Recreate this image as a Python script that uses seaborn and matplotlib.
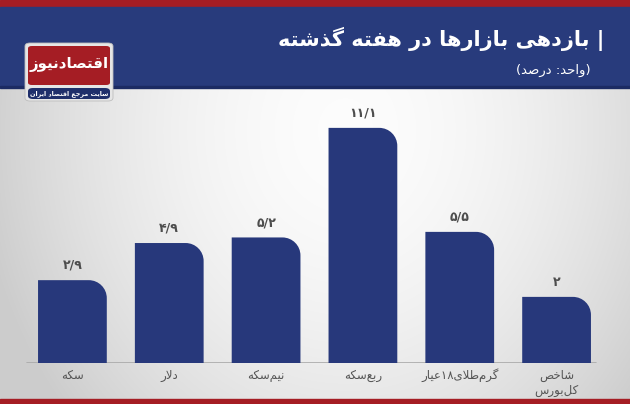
import re
import numpy as np
import matplotlib
matplotlib.use("Agg")
import matplotlib.pyplot as plt
import seaborn as sns
from matplotlib.patches import Rectangle, FancyBboxPatch, PathPatch
from matplotlib.path import Path

# داده ها
categories = ["سکه", "دلار", "نیم\u200cسکه", "ربع\u200cسکه", "گرم\u200cطلای۱۸عیار", "شاخص\nکل\u200cبورس"]
values = [2.9, 4.9, 5.2, 11.1, 5.5, 2]
title = "| بازدهی بازارها در هفته گذشته"
subtitle = "(واحد: درصد)"
logo_name = "اقتصادنیوز"
logo_tag = "سایت مرجع اقتصاد ایران"

navy = "#27387b"
red = "#a51d24"

# matplotlib has no arabic shaping, so do it by hand
FORMS = {
    'ا': ('\uFE8D', '\uFE8E', None, None),
    'ب': ('\uFE8F', '\uFE90', '\uFE91', '\uFE92'),
    'ت': ('\uFE95', '\uFE96', '\uFE97', '\uFE98'),
    'ج': ('\uFE9D', '\uFE9E', '\uFE9F', '\uFEA0'),
    'ح': ('\uFEA1', '\uFEA2', '\uFEA3', '\uFEA4'),
    'خ': ('\uFEA5', '\uFEA6', '\uFEA7', '\uFEA8'),
    'د': ('\uFEA9', '\uFEAA', None, None),
    'ذ': ('\uFEAB', '\uFEAC', None, None),
    'ر': ('\uFEAD', '\uFEAE', None, None),
    'ز': ('\uFEAF', '\uFEB0', None, None),
    'س': ('\uFEB1', '\uFEB2', '\uFEB3', '\uFEB4'),
    'ش': ('\uFEB5', '\uFEB6', '\uFEB7', '\uFEB8'),
    'ص': ('\uFEB9', '\uFEBA', '\uFEBB', '\uFEBC'),
    'ط': ('\uFEC1', '\uFEC2', '\uFEC3', '\uFEC4'),
    'ع': ('\uFEC9', '\uFECA', '\uFECB', '\uFECC'),
    'ف': ('\uFED1', '\uFED2', '\uFED3', '\uFED4'),
    'ق': ('\uFED5', '\uFED6', '\uFED7', '\uFED8'),
    'ک': ('\uFB8E', '\uFB8F', '\uFB90', '\uFB91'),
    'گ': ('\uFB92', '\uFB93', '\uFB94', '\uFB95'),
    'ل': ('\uFEDD', '\uFEDE', '\uFEDF', '\uFEE0'),
    'م': ('\uFEE1', '\uFEE2', '\uFEE3', '\uFEE4'),
    'ن': ('\uFEE5', '\uFEE6', '\uFEE7', '\uFEE8'),
    'ه': ('\uFEE9', '\uFEEA', '\uFEEB', '\uFEEC'),
    'و': ('\uFEED', '\uFEEE', None, None),
    'ی': ('\uFBFC', '\uFBFD', '\uFBFE', '\uFBFF'),
}
MIRROR = str.maketrans("()", ")(")


def shape_line(s):
    out = []
    i = 0
    while i < len(s):
        c = s[i]
        if c not in FORMS:
            out.append(c)
            i += 1
            continue
        prev = s[i - 1] if i > 0 else ''
        jp = prev in FORMS and FORMS[prev][2] is not None
        if c == 'ل' and i + 1 < len(s) and s[i + 1] == 'ا':
            out.append('\uFEFC' if jp else '\uFEFB')
            i += 2
            continue
        nxt = s[i + 1] if i + 1 < len(s) else ''
        jn = FORMS[c][2] is not None and nxt in FORMS
        f = FORMS[c]
        if jp and jn:
            out.append(f[3])
        elif jp:
            out.append(f[1])
        elif jn:
            out.append(f[2])
        else:
            out.append(f[0])
        i += 1
    t = ''.join(out).replace('\u200c', '')
    runs = re.findall(r'[0-9۰-۹/.]+|[^0-9۰-۹/.]+', t)
    return ''.join(r if re.match(r'[0-9۰-۹/.]', r) else r[::-1].translate(MIRROR)
                   for r in reversed(runs))


def fa(s):
    return '\n'.join(shape_line(l) for l in s.split('\n'))


def fa_num(v):
    return f"{v:g}".replace('.', '/').translate(str.maketrans("0123456789", "۰۱۲۳۴۵۶۷۸۹"))


sns.set_theme(style="white")
plt.rcParams['font.family'] = ['DejaVu Sans']

W, H = 630, 404
fig = plt.figure(figsize=(6.3, 4.04), dpi=100)


def fx(x):
    return x / W


def fy(y):
    return 1 - y / H


# background gradient
bg = fig.add_axes([0, 0, 1, 1], zorder=-10)
yy, xx = np.mgrid[0:H, 0:W]
d = np.sqrt(((xx - 345) / 360.0) ** 2 + ((yy - 130) / 420.0) ** 2)
g = np.clip(0.99 - 0.18 * d ** 1.8, 0.8, 1)
bg.imshow(np.dstack([g, g, g]), extent=[0, W, H, 0], aspect='auto')
bg.set_xlim(0, W)
bg.set_ylim(H, 0)
bg.axis('off')

# header
fig.patches.append(Rectangle((0, fy(7)), 1, 7 / H, transform=fig.transFigure, color=red, zorder=1))
fig.patches.append(Rectangle((0, fy(86)), 1, 79 / H, transform=fig.transFigure, color="#283b7c", zorder=1))
fig.patches.append(Rectangle((0, fy(87.5)), 1, 1.5 / H, transform=fig.transFigure, color="#1c2b63", zorder=1))
fig.patches.append(Rectangle((0, 0), 1, 5 / H, transform=fig.transFigure, color=red, zorder=1))

fig.text(fx(604), fy(39), fa(title), color='white', fontsize=15, fontweight='bold',
         ha='right', va='center', zorder=3)
fig.text(fx(591), fy(70), fa(subtitle), color='white', fontsize=9.5, ha='right', va='center', zorder=3)

# logo
fig.patches.append(FancyBboxPatch((fx(25), fy(101)), 88 / W, 58 / H, boxstyle="round,pad=0,rounding_size=0.008",
                                  transform=fig.transFigure, fc="#e6e6e6", ec="#bdbdbd", lw=0.6, zorder=2))
fig.patches.append(FancyBboxPatch((fx(28), fy(85)), 82 / W, 39 / H, boxstyle="round,pad=0,rounding_size=0.006",
                                  transform=fig.transFigure, fc=red, ec='none', zorder=3))
fig.patches.append(FancyBboxPatch((fx(28), fy(99)), 82 / W, 11 / H, boxstyle="round,pad=0,rounding_size=0.008",
                                  transform=fig.transFigure, fc="#1f2f6b", ec='none', zorder=3))
fig.text(fx(69), fy(65), fa(logo_name), color='white', fontsize=10.8, fontweight='bold',
         ha='center', va='center', zorder=4)
fig.text(fx(69), fy(93.5), fa(logo_tag), color='white', fontsize=4.6, fontweight='bold',
         ha='center', va='center', zorder=4)

# bars
ax = fig.add_axes([fx(24), fy(363), 581 / W, (363 - 95) / H])
ax.set_facecolor('none')
floor, top = -1.56, 12.87
sns.barplot(x=list(range(len(values))), y=values, color=navy, width=0.71, saturation=1, ax=ax)
ax.set_xlim(-0.5, len(values) - 0.5)
ax.set_ylim(floor, top)

ppx = 581 / len(values)
ppy = (363 - 95) / (top - floor)
rx, ry = 18 / ppx, 18 / ppy
k = 0.5523
for p in list(ax.patches):
    x0, w, h = p.get_x(), p.get_width(), p.get_height()
    x1 = x0 + w
    p.remove()
    verts = [(x0, floor), (x1, floor), (x1, h - ry),
             (x1, h - ry + k * ry), (x1 - rx + k * rx, h), (x1 - rx, h),
             (x0, h), (x0, floor), (x0, floor)]
    codes = [Path.MOVETO, Path.LINETO, Path.LINETO,
             Path.CURVE4, Path.CURVE4, Path.CURVE4,
             Path.LINETO, Path.LINETO, Path.CLOSEPOLY]
    ax.add_patch(PathPatch(Path(verts, codes), fc=navy, ec='none', zorder=3))
    ax.annotate(fa_num(h), (x0 + w / 2, h), xytext=(0, 6), textcoords='offset points',
                ha='center', va='bottom', fontsize=9, fontweight='bold', color='#4d4d4d')

ax.axhline(floor, xmin=0.006, xmax=0.985, color='#a9a9a9', lw=1.2, zorder=1)
ax.set_xticks(range(len(categories)))
ax.set_xticklabels([fa(c) for c in categories], fontsize=8.5, color='#555555', linespacing=1.2)
ax.tick_params(axis='x', length=0, pad=4)
ax.set_yticks([])
ax.set_xlabel('')
ax.set_ylabel('')
sns.despine(ax=ax, left=True, bottom=True)

fig.savefig("out.png", dpi=100)
